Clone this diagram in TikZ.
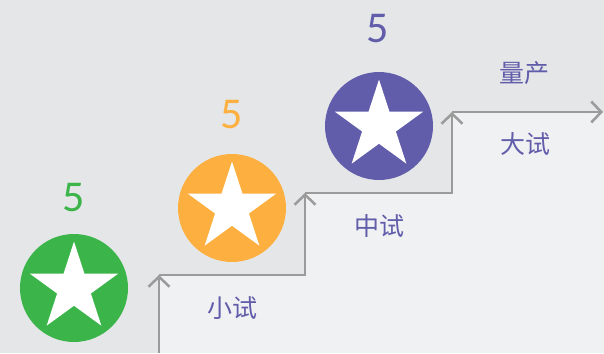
\documentclass[tikz,border=0pt]{standalone}
\usepackage{fontspec}
\setmainfont{Carlito}
\newfontfamily\cjk{Noto Sans CJK SC}
\usetikzlibrary{shapes.geometric}
\usetikzlibrary{arrows.meta}
\pgfdeclarelayer{backlayer}
\pgfdeclarelayer{edgelayer}
\pgfdeclarelayer{nodelayer}
\pgfsetlayers{backlayer,edgelayer,main,nodelayer}
\tikzstyle{none}=[inner sep=0pt]
\definecolor{bggray}{HTML}{E5E6E8}
\definecolor{stepgray}{HTML}{F0F1F3}
\definecolor{linegray}{HTML}{9B9B9B}
\definecolor{green}{HTML}{3BB54A}
\definecolor{orange}{HTML}{FDB040}
\definecolor{violet}{HTML}{615DAA}
\tikzstyle{disc}=[circle, minimum size=108pt, inner sep=0pt]
\tikzstyle{whitestar}=[star, star points=5, star point ratio=2.618, fill=white, minimum size=93pt, inner sep=0pt]
\tikzstyle{count}=[inner sep=0pt, font=\fontsize{44}{44}\selectfont]
\tikzstyle{stage}=[inner sep=0pt, text=violet, font=\cjk\fontsize{25}{25}\selectfont]
\tikzstyle{stair}=[draw=linegray, line width=2.5pt, -{Straight Barb[length=10pt,width=21pt]}]

\begin{document}
\begin{tikzpicture}[x=1pt, y=-1pt]
    \useasboundingbox (0,0) rectangle (604,353);
    \begin{pgfonlayer}{backlayer}
	\fill [bggray] (0,0) rectangle (604,353);
	\fill [stepgray] (159,353) -- (159,275) -- (305,275) -- (305,193) -- (452,193) -- (452,112) -- (604,112) -- (604,353) -- cycle;
    \end{pgfonlayer}
    \begin{pgfonlayer}{nodelayer}
	\node [style=disc, fill=green] (0) at (74, 288) {};
	\node [style=whitestar] (1) at (0.center) {};
	\node [style=count, text=green] (2) at (74, 198) {5};
	\node [style=disc, fill=orange] (3) at (232, 208) {};
	\node [style=whitestar] (4) at (3.center) {};
	\node [style=count, text=orange] (5) at (232, 115) {5};
	\node [style=disc, fill=violet] (6) at (379, 126) {};
	\node [style=whitestar] (7) at (6.center) {};
	\node [style=count, text=violet] (8) at (378, 29) {5};
	\node [style=stage] (9) at (232, 308) {小试};
	\node [style=stage] (10) at (379, 226) {中试};
	\node [style=stage] (11) at (525, 144) {大试};
	\node [style=stage] (12) at (524, 73) {量产};
    \end{pgfonlayer}
    \begin{pgfonlayer}{edgelayer}
	\coordinate (13) at (159, 353);
	\coordinate (14) at (159, 275);
	\coordinate (15) at (305, 275);
	\coordinate (16) at (305, 193);
	\coordinate (17) at (452, 193);
	\coordinate (18) at (452, 112);
	\coordinate (19) at (603, 112);
	\draw [style=stair] (13) to (14);
	\draw [style=stair] (14) -- (15) -- (16);
	\draw [style=stair] (16) -- (17) -- (18);
	\draw [style=stair] (18) to (19);
    \end{pgfonlayer}
\end{tikzpicture}
\end{document}
